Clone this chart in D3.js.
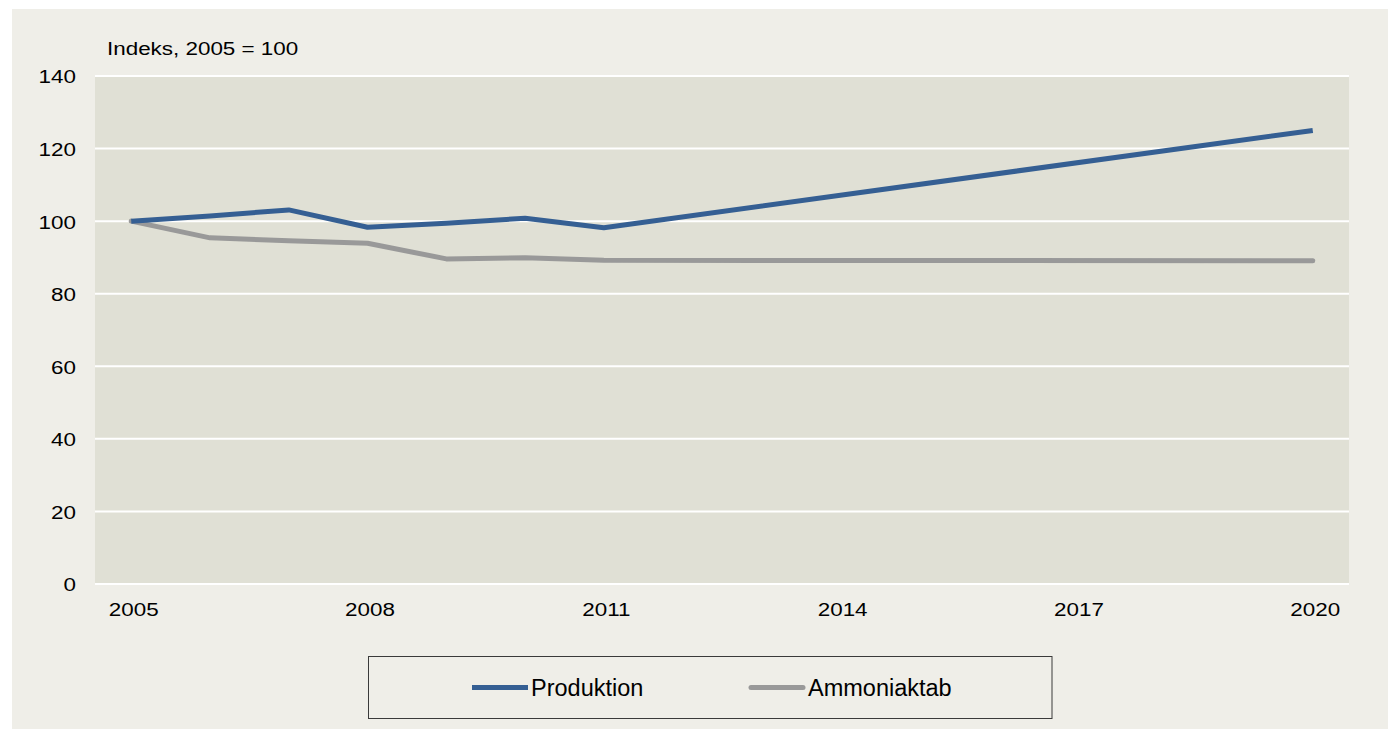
<!DOCTYPE html>
<html>
<head>
<meta charset="utf-8">
<script src="https://cdn.jsdelivr.net/npm/d3@7"></script>
<style>
  html, body { margin: 0; padding: 0; background: #ffffff; }
  svg { display: block; }
  text { font-family: "Liberation Sans", Arial, sans-serif; fill: #000; }
</style>
</head>
<body>
<svg id="chart" width="1388" height="729"></svg>
<script>
// ---- data ----
const years = ["2005","2006","2007","2008","2009","2010","2011","2012","2013","2014","2015","2016","2017","2018","2019","2020"];
const produktion  = [100, 101.4, 103.1, 98.3, 99.4, 100.8, 98.2, null, null, null, null, null, null, null, null, 125];
const ammoniaktab = [100, 95.4, 94.6, 93.9, 89.6, 89.9, 89.2, null, null, null, null, null, null, null, null, 89.1];
const seriesNames = ["Produktion", "Ammoniaktab"];
const xTickLabels = ["2005","2008","2011","2014","2017","2020"];
const yTicks = [0, 20, 40, 60, 80, 100, 120, 140];
const yTitle = "Indeks, 2005 = 100";

// ---- layout ----
const W = 1388, H = 729;
const plot = { left: 95, right: 1349, top: 76, bottom: 584 };
const colors = { Produktion: "#355F93", Ammoniaktab: "#999999" };
const sx = 1.18; // horizontal text stretch seen in the reference

const svg = d3.select("#chart");

svg.append("rect").attr("x", 12).attr("y", 9).attr("width", W - 12).attr("height", H - 9)
  .attr("fill", "#EFEEE8");

svg.append("rect").attr("x", plot.left).attr("y", plot.top)
  .attr("width", plot.right - plot.left).attr("height", plot.bottom - plot.top)
  .attr("fill", "#E0E0D5");

const x = d3.scalePoint().domain(years).range([plot.left, plot.right]).padding(0.46);
const y = d3.scaleLinear().domain([0, 140]).range([plot.bottom, plot.top]);

// gridlines
svg.append("g").selectAll("line").data(yTicks).join("line")
  .attr("x1", plot.left).attr("x2", plot.right)
  .attr("y1", d => y(d)).attr("y2", d => y(d))
  .attr("stroke", "#ffffff").attr("stroke-width", 2);

// y tick labels
const yAxis = d3.axisLeft(y).tickValues(yTicks).tickSize(0).tickPadding(0);
const yg = svg.append("g").attr("transform", "translate(76,0)").call(yAxis);
yg.select(".domain").remove();
yg.selectAll("text")
  .attr("x", 0).attr("dy", null).attr("dominant-baseline", "central")
  .attr("transform", d => `scale(${sx},1)`)
  .style("font-family", '"Liberation Sans", Arial, sans-serif')
  .style("font-size", "19px").attr("fill", "#000").attr("text-anchor", "end");
yg.selectAll(".tick").each(function(d) {
  d3.select(this).attr("transform", `translate(0,${y(d) + 0.5})`);
});

// x tick labels
const xAxis = d3.axisBottom(x).tickValues(xTickLabels).tickSize(0).tickPadding(0);
const xg = svg.append("g").attr("transform", "translate(2,616)").call(xAxis);
xg.select(".domain").remove();
xg.selectAll("text")
  .attr("y", 0).attr("dy", null)
  .attr("transform", `scale(${sx},1)`)
  .style("font-family", '"Liberation Sans", Arial, sans-serif')
  .style("font-size", "19px").attr("fill", "#000");

// axis title
svg.append("text").attr("transform", `translate(107,55) scale(${sx},1)`)
  .style("font-size", "19px").text(yTitle);

// lines
const line = d3.line().x(d => x(d.year)).y(d => y(d.value));
const toPts = arr => years.map((yr, i) => ({ year: yr, value: arr[i] })).filter(d => d.value != null);

svg.append("path").datum(toPts(ammoniaktab))
  .attr("d", line).attr("fill", "none")
  .attr("stroke", colors.Ammoniaktab).attr("stroke-width", 5)
  .attr("stroke-linejoin", "round").attr("stroke-linecap", "round");

svg.append("path").datum(toPts(produktion))
  .attr("d", line).attr("fill", "none")
  .attr("stroke", colors.Produktion).attr("stroke-width", 5)
  .attr("stroke-linejoin", "round").attr("stroke-linecap", "butt");

// legend
const lg = svg.append("g");
lg.append("rect").attr("x", 368.5).attr("y", 656.5).attr("width", 683.5).attr("height", 62)
  .attr("fill", "none").attr("stroke", "#3a3a3a").attr("stroke-width", 1);

const legendItems = [
  { name: seriesNames[0], x1: 472, x2: 528, tx: 531, cap: "butt" },
  { name: seriesNames[1], x1: 751, x2: 803, tx: 808, cap: "round" }
];
legendItems.forEach(it => {
  lg.append("line").attr("x1", it.x1).attr("x2", it.x2).attr("y1", 687.5).attr("y2", 687.5)
    .attr("stroke", colors[it.name]).attr("stroke-width", 5).attr("stroke-linecap", it.cap);
  lg.append("text").attr("x", it.tx).attr("y", 695.5)
    .style("font-size", "23.5px").text(it.name);
});
</script>
</body>
</html>
